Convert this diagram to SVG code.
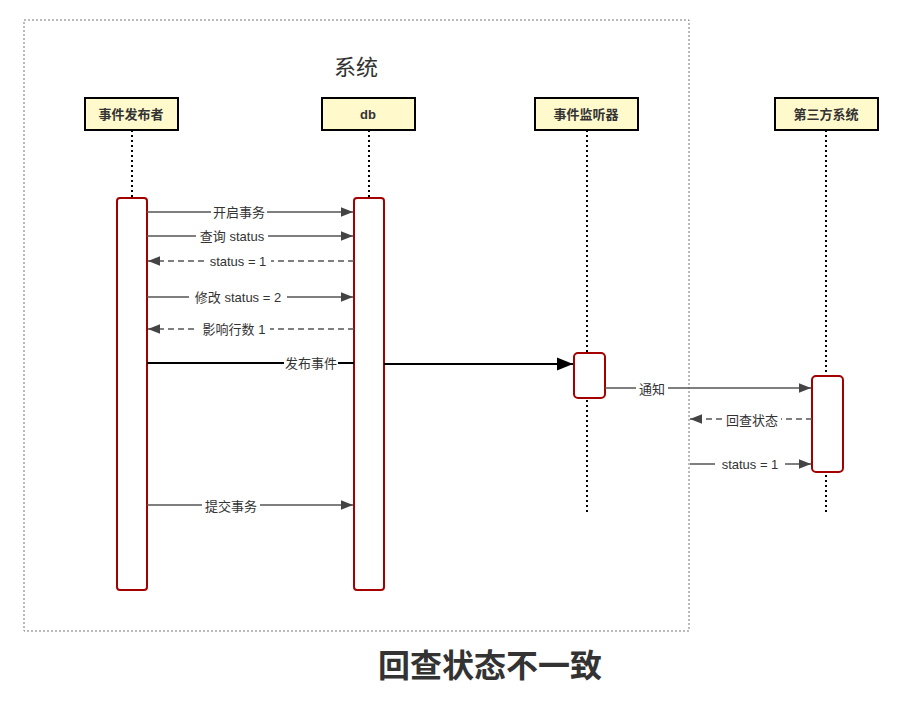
<svg xmlns="http://www.w3.org/2000/svg" width="902" height="703" viewBox="0 0 902 703">
<defs>
<style>
text{font-family:"Liberation Sans","Noto Sans CJK SC",sans-serif;fill:#333}
.hd rect{fill:#fff9cc;stroke:#000;stroke-width:2}
.hd text{font-size:13px;font-weight:bold;text-anchor:middle}
.life{stroke:#000;stroke-width:2;stroke-dasharray:2 3}
.act{fill:#fff;stroke:#a50000;stroke-width:2}
.m{stroke:#555;stroke-width:1.5;fill:none;marker-end:url(#ah)}
.d{stroke-dasharray:6 4}
.lb{font-size:13px;text-anchor:middle}
.bg{fill:#fff}
</style>
<marker id="ah" viewBox="0 0 10 10" refX="10" refY="5" markerWidth="8" markerHeight="8" orient="auto"><path d="M0,1 L10,5 L0,9 Z" fill="#444"/></marker>
<marker id="ahb" viewBox="0 0 10 10" refX="10" refY="5" markerWidth="8" markerHeight="8" orient="auto"><path d="M0,1 L10,5 L0,9 Z" fill="#000"/></marker>
</defs>
<rect x="24" y="20" width="665" height="611" fill="none" stroke="#777" stroke-dasharray="2 2"/>
<text x="356" y="75" font-size="22" text-anchor="middle">系统</text>
<g id="lifelines">
<line class="life" x1="132" y1="130" x2="132" y2="198"/>
<line class="life" x1="369" y1="130" x2="369" y2="198"/>
<line class="life" x1="587" y1="130" x2="587" y2="512"/>
<line class="life" x1="826" y1="130" x2="826" y2="512"/>
</g>
<g id="n1" class="hd"><rect x="85" y="98" width="93" height="32"/><text x="131" y="119">事件发布者</text></g>
<g id="n2" class="hd"><rect x="322" y="98" width="93" height="32"/><text x="368" y="119">db</text></g>
<g id="n3" class="hd"><rect x="535" y="98" width="103" height="32"/><text x="586" y="119">事件监听器</text></g>
<g id="n4" class="hd"><rect x="775" y="98" width="103" height="32"/><text x="826" y="119">第三方系统</text></g>
<g id="a1"><rect class="act" x="117" y="198" width="30" height="392" rx="3"/></g>
<g id="a2"><rect class="act" x="354" y="198" width="30" height="392" rx="3"/></g>
<g id="a3"><rect class="act" x="574" y="353" width="31" height="45" rx="4"/></g>
<g id="a4"><rect class="act" x="812" y="376" width="31" height="96" rx="4"/></g>
<g id="connectors">
<line class="m" x1="147" y1="212" x2="353" y2="212"/>
<line class="m" x1="147" y1="236" x2="353" y2="236"/>
<line class="m d" x1="354" y1="261" x2="148" y2="261"/>
<line class="m" x1="147" y1="297" x2="353" y2="297"/>
<line class="m d" x1="354" y1="329" x2="148" y2="329"/>
<line x1="147" y1="363" x2="354" y2="363" stroke="#000" stroke-width="2"/>
<line x1="384" y1="364" x2="573" y2="364" stroke="#000" stroke-width="2" marker-end="url(#ahb)"/>
<line class="m" x1="147" y1="505" x2="353" y2="505"/>
<line class="m" x1="605" y1="388" x2="811" y2="388"/>
<line class="m d" x1="812" y1="419" x2="690" y2="419"/>
<line class="m" x1="690" y1="464" x2="811" y2="464"/>
<g class="lb">
<rect class="bg" x="211" y="205" width="56" height="14"/><text x="239" y="217">开启事务</text>
<rect class="bg" x="196" y="229" width="72" height="14"/><text x="232" y="241">查询 status</text>
<rect class="bg" x="205" y="254" width="66" height="14"/><text x="238" y="266">status = 1</text>
<rect class="bg" x="189" y="290" width="98" height="14"/><text x="238" y="302">修改 status = 2</text>
<rect class="bg" x="198" y="322" width="72" height="14"/><text x="234" y="334">影响行数 1</text>
<rect class="bg" x="284" y="356" width="54" height="14"/><text x="311" y="368">发布事件</text>
<rect class="bg" x="202" y="498" width="58" height="14"/><text x="231" y="511">提交事务</text>
<rect class="bg" x="636" y="381" width="32" height="14"/><text x="652" y="394">通知</text>
<rect class="bg" x="723" y="412" width="58" height="14"/><text x="752" y="425">回查状态</text>
<rect class="bg" x="715" y="457" width="70" height="14"/><text x="750" y="469">status = 1</text>
</g>
</g>
<text x="490" y="677" font-size="32" font-weight="bold" text-anchor="middle">回查状态不一致</text>
</svg>
